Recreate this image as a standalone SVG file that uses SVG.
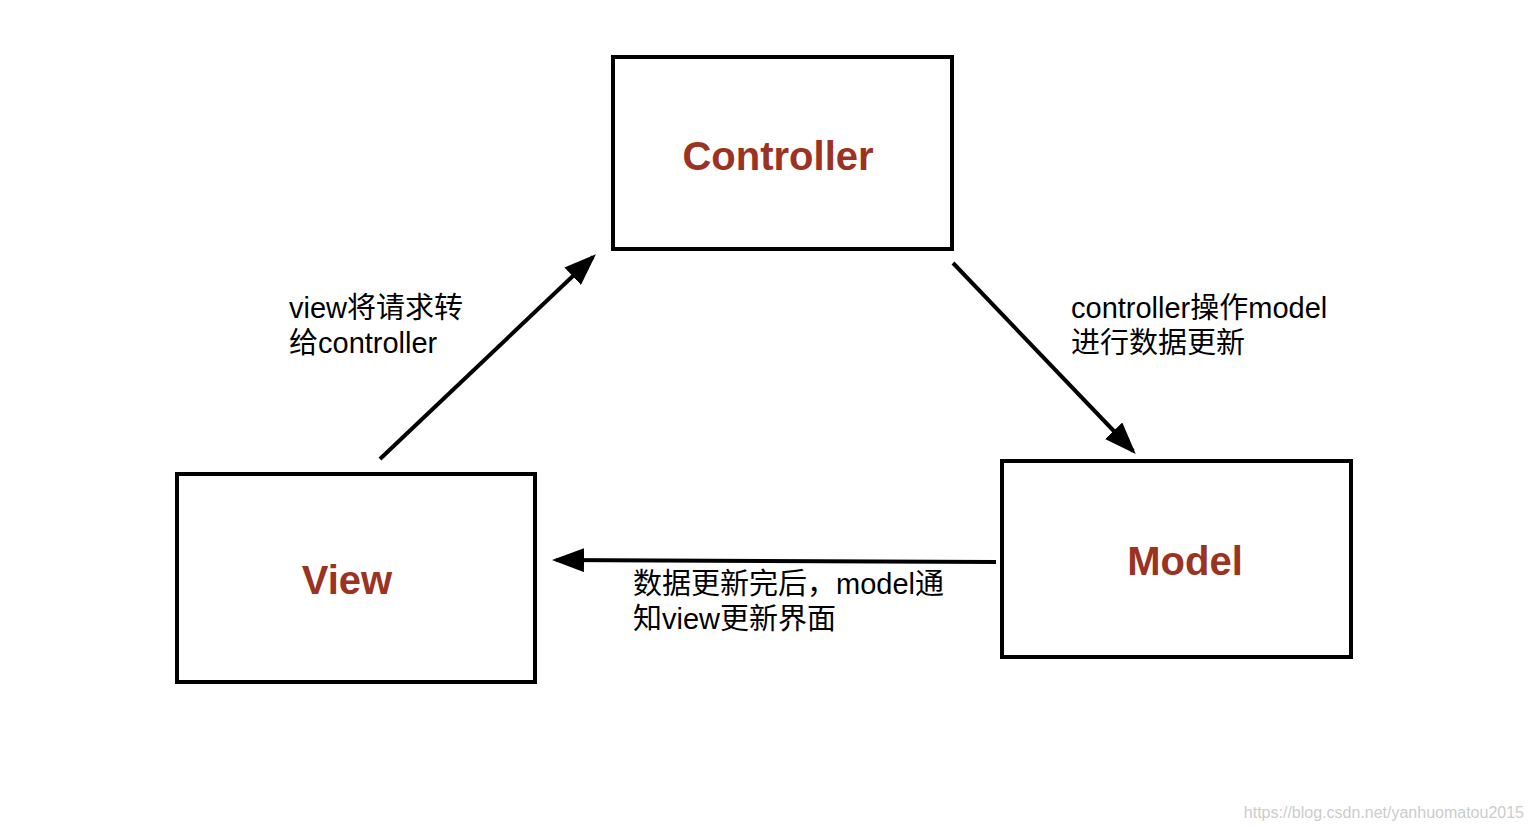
<svg xmlns="http://www.w3.org/2000/svg" width="1534" height="830" viewBox="0 0 1534 830">
<style>
.box{fill:#fff;stroke:#000;stroke-width:4}
.title{font-family:"Liberation Sans",Arial,sans-serif;font-weight:bold;font-size:40px;fill:#9b3322;text-anchor:middle}
.lbl{font-family:"Liberation Sans","Noto Sans CJK SC",sans-serif;font-size:29px;fill:#000}
.conn{stroke:#000;stroke-width:4;fill:none;marker-end:url(#ah)}
</style>
<defs><marker id="ah" markerWidth="8" markerHeight="6" refX="7" refY="3" orient="auto" markerUnits="strokeWidth"><path d="M0,0L8,3L0,6Z" fill="#000"/></marker></defs>
<rect width="1534" height="830" fill="#fff"/>
<g id="controller"><rect class="box" x="613" y="57" width="339" height="192"/><text class="title" x="778" y="170">Controller</text></g>
<g id="view"><rect class="box" x="177" y="474" width="358" height="208"/><text class="title" x="347" y="594">View</text></g>
<g id="model"><rect class="box" x="1002" y="461" width="349" height="196"/><text class="title" x="1185" y="575">Model</text></g>
<g id="connectors">
<line class="conn" x1="380" y1="459" x2="593" y2="257"/>
<line class="conn" x1="953" y1="263" x2="1133" y2="451"/>
<line class="conn" x1="996" y1="562" x2="556" y2="560"/>
</g>
<g id="labels">
<text class="lbl" x="289" y="318">view将请求转</text>
<text class="lbl" x="289" y="353">给controller</text>
<text class="lbl" x="1071" y="318">controller操作model</text>
<text class="lbl" x="1071" y="353">进行数据更新</text>
<text class="lbl" x="633" y="594">数据更新完后，model通</text>
<text class="lbl" x="633" y="629">知view更新界面</text>
</g>
<text x="1524" y="818" font-family="Liberation Sans,sans-serif" font-size="16" fill="#ccc" text-anchor="end">https://blog.csdn.net/yanhuomatou2015</text>
</svg>
